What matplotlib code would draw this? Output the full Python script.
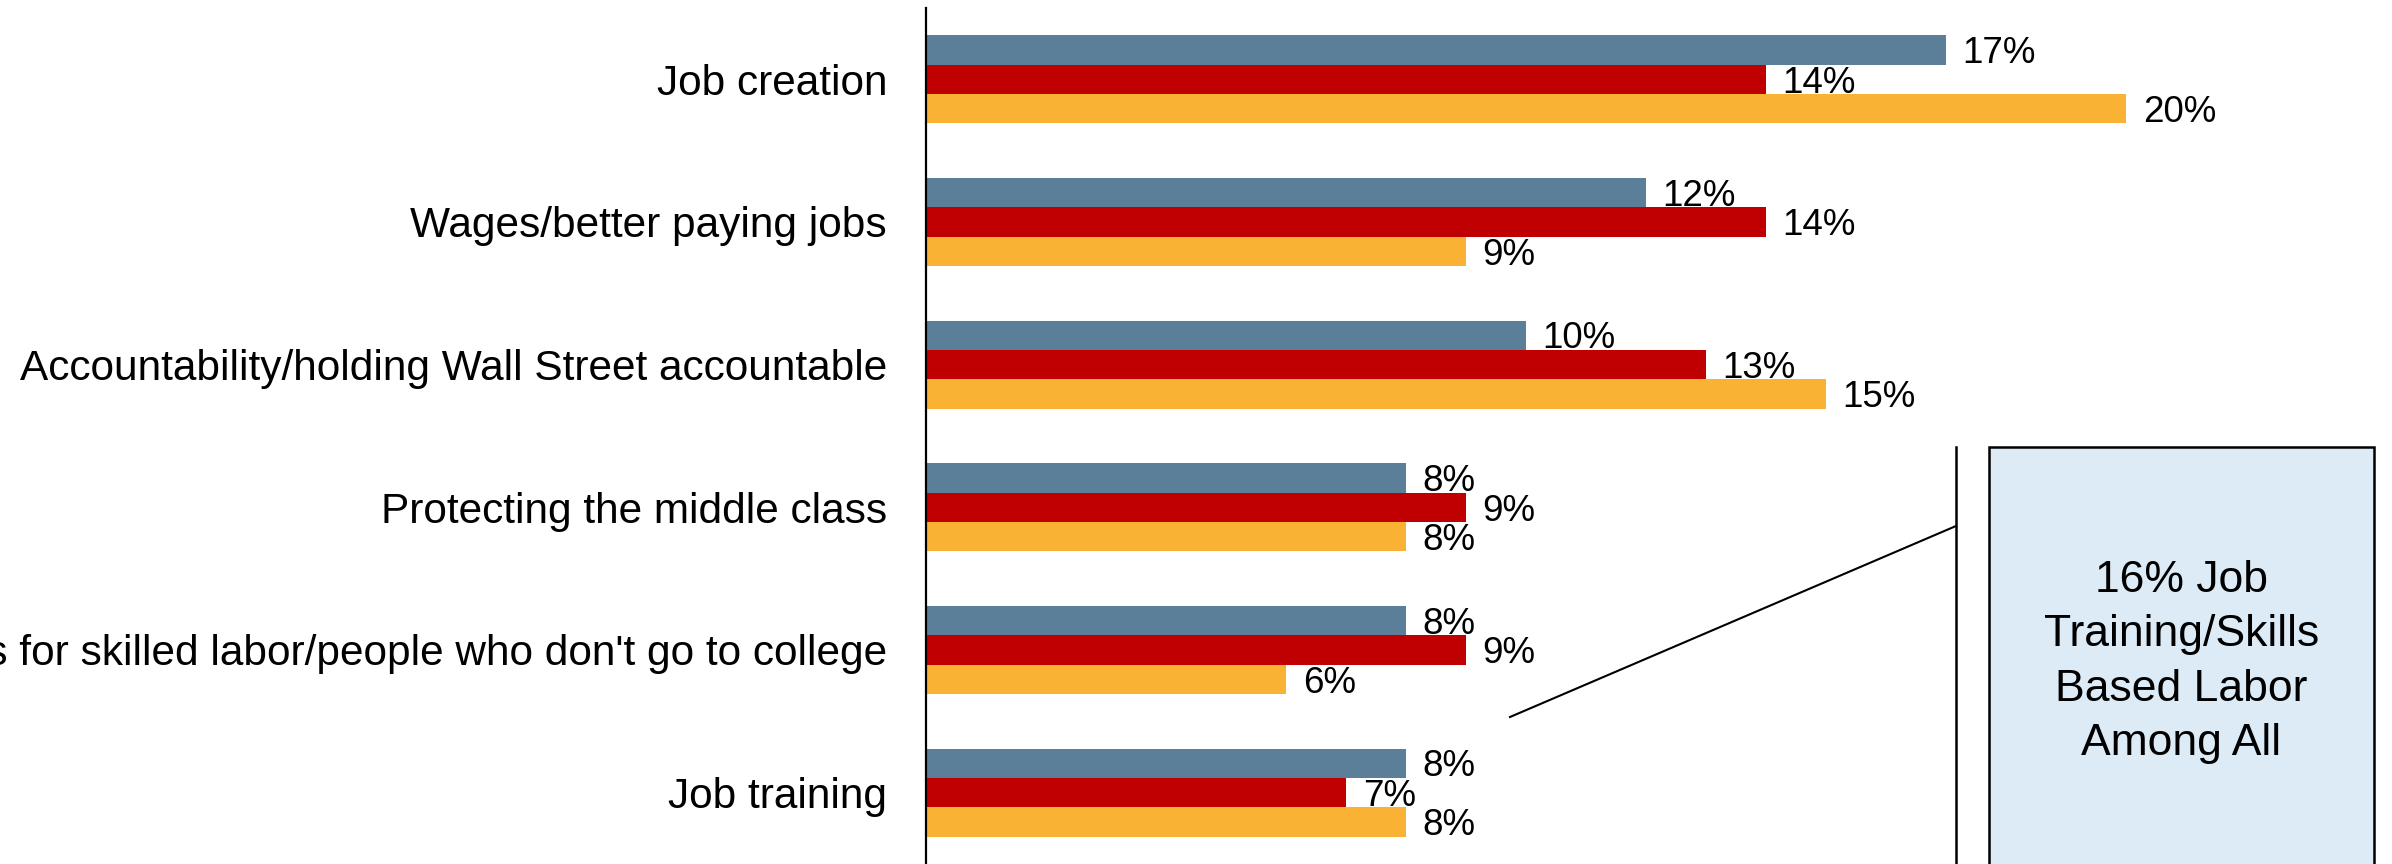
import matplotlib
matplotlib.use("Agg")
import matplotlib.pyplot as plt
from matplotlib.patches import Rectangle
from matplotlib.lines import Line2D

categories = [
    "Job creation",
    "Wages/better paying jobs",
    "Accountability/holding Wall Street accountable",
    "Protecting the middle class",
    "Jobs for skilled labor/people who don't go to college",
    "Job training",
]
series_a = [17, 12, 10, 8, 8, 8]   # blue
series_b = [14, 14, 13, 9, 9, 7]   # red
series_c = [20, 9, 15, 8, 6, 8]    # yellow
series_colors = ["#5B7F99", "#C00000", "#F9B233"]
callout_text = "16% Job\nTraining/Skills\nBased Labor\nAmong All"

plt.rcParams['font.family'] = ['Liberation Sans', 'DejaVu Sans']

W, H = 2392, 864
fig = plt.figure(figsize=(W / 100, H / 100), dpi=100)
ax_left, ax_top = 926, 8
ax = fig.add_axes([ax_left / W, 0, 1 - ax_left / W, 1 - ax_top / H])

h = 0.206
ys = list(range(len(categories)))
for k, (vals, col) in enumerate(zip([series_a, series_b, series_c], series_colors)):
    off = (k - 1) * h
    pos = [y + off for y in ys]
    ax.barh(pos, vals, height=h, color=col, edgecolor='none')
    for p, v in zip(pos, vals):
        ax.annotate(f"{v}%", xy=(v, p), xytext=(12, -9.5), textcoords='offset points',
                    va='baseline', ha='left', fontsize=26.5, color='black')

ax.set_ylim(len(categories) - 0.5, -0.5)
ax.set_xlim(0, (W - ax_left) / 60.0)
ax.set_yticks(ys)
ax.set_yticklabels(categories, fontsize=30.5)
ax.tick_params(axis='y', length=0, pad=28)
ax.set_xticks([])
for s in ['top', 'right', 'bottom']:
    ax.spines[s].set_visible(False)
ax.spines['left'].set_linewidth(1.6)
ax.spines['left'].set_color('black')

def fx(x):
    return x / W

def fy(y):
    return 1 - y / H

# callout
fig.add_artist(Line2D([fx(1510), fx(1956)], [fy(717), fy(526)], color='black', lw=1.5,
                      transform=fig.transFigure))
fig.add_artist(Line2D([fx(1956), fx(1956)], [fy(447), fy(880)], color='black', lw=1.8,
                      transform=fig.transFigure))
fig.add_artist(Rectangle((fx(1989), fy(880)), fx(2374) - fx(1989), fy(447) - fy(880),
                         facecolor='#DCEBF6', edgecolor='black', lw=1.8,
                         transform=fig.transFigure))
fig.text(fx(2181.5), fy(662), callout_text, ha='center', va='center', fontsize=32,
         linespacing=1.42, color='black')

fig.savefig("out.png", dpi=100)
